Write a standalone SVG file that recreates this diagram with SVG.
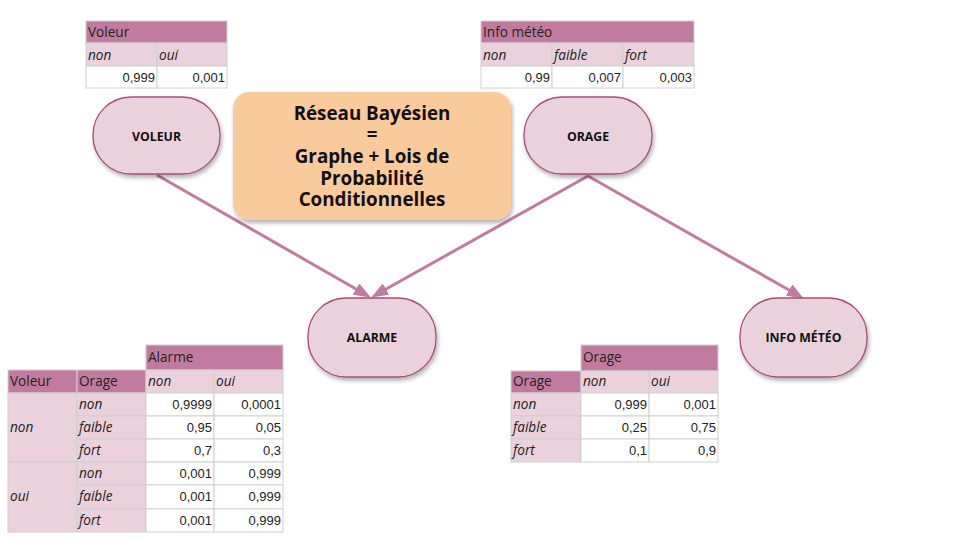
<svg xmlns="http://www.w3.org/2000/svg" width="960" height="540" viewBox="0 0 960 540">
<defs>
<filter id="sh" x="-20%" y="-20%" width="140%" height="150%">
<feDropShadow dx="1.5" dy="3" stdDeviation="2" flood-color="#000" flood-opacity="0.3"/>
</filter>
<marker id="ah" markerUnits="userSpaceOnUse" markerWidth="17" markerHeight="13" refX="8" refY="6.5" orient="auto">
<path d="M0,0 L17,6.5 L0,13 z" fill="#c27ba0"/>
</marker>
<style>
.node{fill:#ead1dc;stroke:#a64d79;stroke-width:1.3;filter:url(#sh)}
.nl{font-family:"Open Sans","Noto Sans","DejaVu Sans",sans-serif;font-weight:bold;font-size:12.3px;fill:#111;text-anchor:middle}
.conn line{stroke:#c27ba0;stroke-width:3;marker-end:url(#ah)}
.hd{fill:#c27ba0;stroke:#d0d0d0;stroke-width:1}
.lt{fill:#ead1dc;stroke:#d0d0d0;stroke-width:1}
.wh{fill:#ffffff;stroke:#d0d0d0;stroke-width:1}
.t{font-family:"Open Sans","Noto Sans","DejaVu Sans",sans-serif;font-size:13.6px;fill:#222}
.i{font-family:"Open Sans","Noto Sans","DejaVu Sans",sans-serif;font-size:13.6px;font-style:italic;fill:#222}
.n{font-family:"Liberation Sans",Arial,sans-serif;font-size:13px;fill:#222;text-anchor:end}
.title{font-family:"Open Sans","Noto Sans","DejaVu Sans",sans-serif;font-weight:bold;font-size:18.8px;fill:#111;text-anchor:middle}
</style>
</defs>
<rect width="960" height="540" fill="#ffffff"/>

<g id="connectors" class="conn">
<line x1="157" y1="175" x2="363" y2="293"/>
<line x1="588" y1="176" x2="379" y2="293"/>
<line x1="588" y1="176" x2="796" y2="294"/>
</g>

<g id="title">
<rect x="233" y="92" width="278" height="128" rx="16" fill="#f9cb9c" filter="url(#sh)"/>
<text class="title" x="372" y="120">Réseau Bayésien</text>
<text class="title" x="372" y="141">=</text>
<text class="title" x="372" y="163">Graphe + Lois de</text>
<text class="title" x="372" y="185">Probabilité</text>
<text class="title" x="372" y="206">Conditionnelles</text>
</g>

<g id="node-voleur">
<rect class="node" x="93" y="97" width="127" height="77" rx="38"/>
<text class="nl" x="156.5" y="141">VOLEUR</text>
</g>
<g id="node-orage">
<rect class="node" x="524" y="97" width="128" height="77" rx="38"/>
<text class="nl" x="588" y="141">ORAGE</text>
</g>
<g id="node-alarme">
<rect class="node" x="308" y="298" width="128" height="79" rx="38"/>
<text class="nl" x="372" y="342">ALARME</text>
</g>
<g id="node-info">
<rect class="node" x="740" y="298" width="127" height="79" rx="38"/>
<text class="nl" x="803.5" y="342">INFO MÉTÉO</text>
</g>

<g id="table-voleur">
<rect class="hd" x="86" y="21" width="141" height="22"/>
<rect class="lt" x="86" y="43" width="71" height="23"/>
<rect class="lt" x="157" y="43" width="70" height="23"/>
<rect class="wh" x="86" y="66" width="71" height="22"/>
<rect class="wh" x="157" y="66" width="70" height="22"/>
<text class="t" x="88" y="37">Voleur</text>
<text class="i" x="88" y="60">non</text>
<text class="i" x="159" y="60">oui</text>
<text class="n" x="155" y="82">0,999</text>
<text class="n" x="225" y="82">0,001</text>
</g>

<g id="table-info">
<rect class="hd" x="481" y="21" width="213" height="22"/>
<rect class="lt" x="481" y="43" width="71" height="23"/>
<rect class="lt" x="552" y="43" width="71" height="23"/>
<rect class="lt" x="623" y="43" width="71" height="23"/>
<rect class="wh" x="481" y="66" width="71" height="22"/>
<rect class="wh" x="552" y="66" width="71" height="22"/>
<rect class="wh" x="623" y="66" width="71" height="22"/>
<text class="t" x="483" y="37">Info météo</text>
<text class="i" x="483" y="60">non</text>
<text class="i" x="554" y="60">faible</text>
<text class="i" x="625" y="60">fort</text>
<text class="n" x="550" y="82">0,99</text>
<text class="n" x="621" y="82">0,007</text>
<text class="n" x="692" y="82">0,003</text>
</g>

<g id="table-alarme">
<rect class="hd" x="146" y="345" width="137" height="25"/>
<rect class="hd" x="8" y="370" width="69" height="23"/>
<rect class="hd" x="77" y="370" width="69" height="23"/>
<rect class="lt" x="146" y="370" width="68" height="23"/>
<rect class="lt" x="214" y="370" width="69" height="23"/>
<rect class="lt" x="8" y="393" width="69" height="69"/>
<rect class="lt" x="8" y="462" width="69" height="70"/>
<rect class="lt" x="77" y="393" width="69" height="23"/>
<rect class="lt" x="77" y="416" width="69" height="23"/>
<rect class="lt" x="77" y="439" width="69" height="23"/>
<rect class="lt" x="77" y="462" width="69" height="23"/>
<rect class="lt" x="77" y="485" width="69" height="24"/>
<rect class="lt" x="77" y="509" width="69" height="23"/>
<rect class="wh" x="146" y="393" width="68" height="23"/>
<rect class="wh" x="146" y="416" width="68" height="23"/>
<rect class="wh" x="146" y="439" width="68" height="23"/>
<rect class="wh" x="146" y="462" width="68" height="23"/>
<rect class="wh" x="146" y="485" width="68" height="24"/>
<rect class="wh" x="146" y="509" width="68" height="23"/>
<rect class="wh" x="214" y="393" width="69" height="23"/>
<rect class="wh" x="214" y="416" width="69" height="23"/>
<rect class="wh" x="214" y="439" width="69" height="23"/>
<rect class="wh" x="214" y="462" width="69" height="23"/>
<rect class="wh" x="214" y="485" width="69" height="24"/>
<rect class="wh" x="214" y="509" width="69" height="23"/>
<text class="t" x="148" y="362">Alarme</text>
<text class="t" x="10" y="386">Voleur</text>
<text class="t" x="79" y="386">Orage</text>
<text class="i" x="148" y="386">non</text>
<text class="i" x="216" y="386">oui</text>
<text class="i" x="10" y="432">non</text>
<text class="i" x="10" y="501">oui</text>
<text class="i" x="79" y="409">non</text>
<text class="i" x="79" y="432">faible</text>
<text class="i" x="79" y="455">fort</text>
<text class="i" x="79" y="478">non</text>
<text class="i" x="79" y="501">faible</text>
<text class="i" x="79" y="525">fort</text>
<text class="n" x="212" y="409">0,9999</text>
<text class="n" x="281" y="409">0,0001</text>
<text class="n" x="212" y="432">0,95</text>
<text class="n" x="281" y="432">0,05</text>
<text class="n" x="212" y="455">0,7</text>
<text class="n" x="281" y="455">0,3</text>
<text class="n" x="212" y="478">0,001</text>
<text class="n" x="281" y="478">0,999</text>
<text class="n" x="212" y="501">0,001</text>
<text class="n" x="281" y="501">0,999</text>
<text class="n" x="212" y="525">0,001</text>
<text class="n" x="281" y="525">0,999</text>
</g>

<g id="table-orage">
<rect class="hd" x="581" y="345" width="137" height="26"/>
<rect class="hd" x="511" y="371" width="70" height="22"/>
<rect class="lt" x="581" y="371" width="68" height="22"/>
<rect class="lt" x="649" y="371" width="69" height="22"/>
<rect class="lt" x="511" y="393" width="70" height="23"/>
<rect class="lt" x="511" y="416" width="70" height="23"/>
<rect class="lt" x="511" y="439" width="70" height="23"/>
<rect class="wh" x="581" y="393" width="68" height="23"/>
<rect class="wh" x="581" y="416" width="68" height="23"/>
<rect class="wh" x="581" y="439" width="68" height="23"/>
<rect class="wh" x="649" y="393" width="69" height="23"/>
<rect class="wh" x="649" y="416" width="69" height="23"/>
<rect class="wh" x="649" y="439" width="69" height="23"/>
<text class="t" x="583" y="362">Orage</text>
<text class="t" x="513" y="386">Orage</text>
<text class="i" x="583" y="386">non</text>
<text class="i" x="651" y="386">oui</text>
<text class="i" x="513" y="409">non</text>
<text class="i" x="513" y="432">faible</text>
<text class="i" x="513" y="455">fort</text>
<text class="n" x="647" y="409">0,999</text>
<text class="n" x="716" y="409">0,001</text>
<text class="n" x="647" y="432">0,25</text>
<text class="n" x="716" y="432">0,75</text>
<text class="n" x="647" y="455">0,1</text>
<text class="n" x="716" y="455">0,9</text>
</g>
</svg>
